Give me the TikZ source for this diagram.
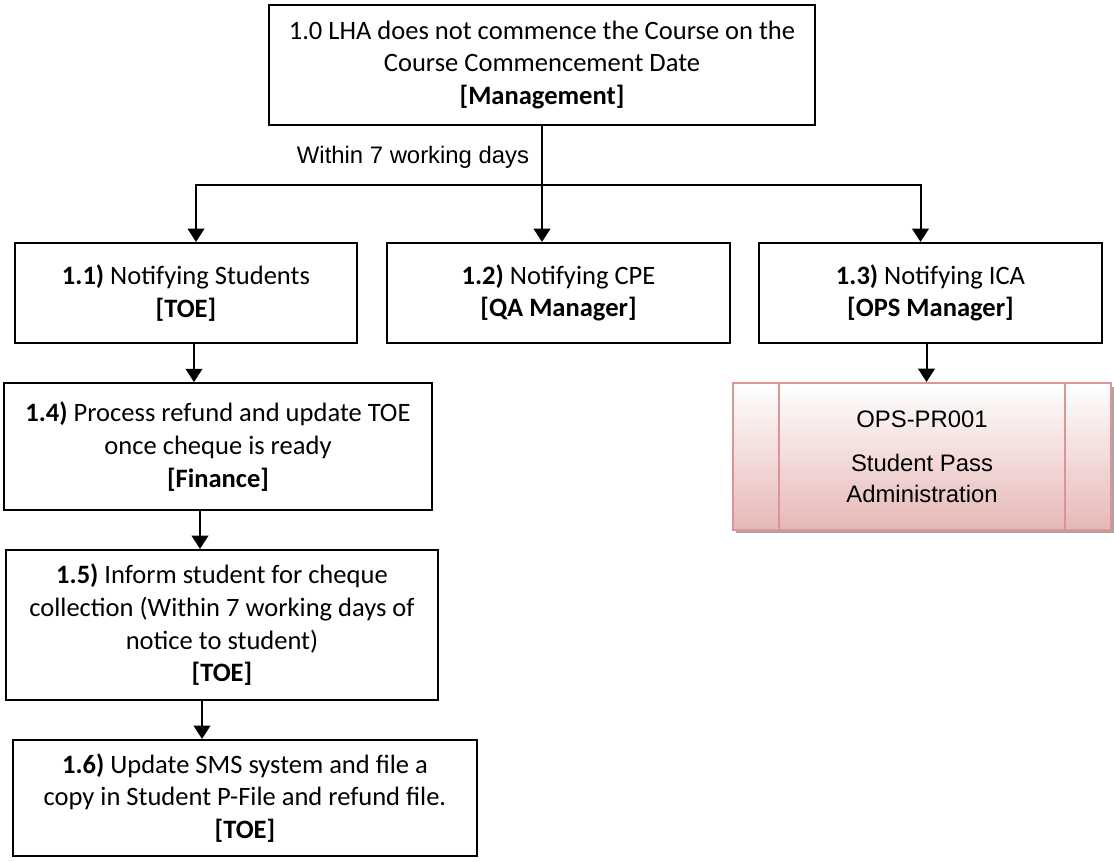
\documentclass[tikz,border=0pt]{standalone}
\usepackage{fontspec}
\setmainfont{Carlito}
\newfontfamily\arialfont{Liberation Sans}
\usepackage{tikz}
\usetikzlibrary{arrows.meta, positioning, shadows}
\usepackage{xcolor}
\definecolor{procpink}{RGB}{230, 184, 183}
\definecolor{procedge}{RGB}{217, 150, 148}

\begin{document}
\begin{tikzpicture}[x=0.75pt, y=-0.75pt,
    stepbox/.style={rectangle, draw=black, line width=1.6pt, fill=white, align=center, inner sep=3pt, font=\fontsize{19.9}{24.5}\selectfont},
    subproc/.style={rectangle, draw=procedge, line width=1.8pt, top color=white, bottom color=procpink, align=center,
        minimum width=283.5pt, minimum height=110pt, font=\arialfont\fontsize{17.9}{23.25}\selectfont,
        drop shadow={shadow xshift=2.5pt, shadow yshift=-2.5pt, fill=gray!70, opacity=1},
        path picture={
            \draw[procedge, line width=1.8pt] ([xshift=34.5pt]path picture bounding box.north west) -- ([xshift=34.5pt]path picture bounding box.south west);
            \draw[procedge, line width=1.8pt] ([xshift=-34.5pt]path picture bounding box.north east) -- ([xshift=-34.5pt]path picture bounding box.south east);
        }},
    arr/.style={-{Triangle[length=10pt, width=12.5pt]}, line width=1.5pt, black},
]
\useasboundingbox (0,0) rectangle (1114,861);

\node[stepbox, minimum width=409.5pt, minimum height=90pt] (n10) at (542,65)
    {1.0 LHA does not commence the Course on the\\Course Commencement Date\\\textbf{[Management]}};

\node[font=\arialfont\fontsize{17.9}{23.25}\selectfont] (lbl) at (413,157) {Within 7 working days};

\node[stepbox, minimum width=257pt, minimum height=75pt] (n11) at (186,293)
    {\textbf{1.1)} Notifying Students\\\textbf{[TOE]}};
\node[stepbox, minimum width=257pt, minimum height=75pt] (n12) at (558.5,293)
    {\textbf{1.2)} Notifying CPE\\\textbf{[QA Manager]}};
\node[stepbox, minimum width=257pt, minimum height=75pt] (n13) at (930.5,293)
    {\textbf{1.3)} Notifying ICA\\\textbf{[OPS Manager]}};

\node[stepbox, minimum width=321pt, minimum height=95pt] (n14) at (218,446.5)
    {\textbf{1.4)} Process refund and update TOE\\once cheque is ready\\\textbf{[Finance]}};
\node[stepbox, minimum width=324pt, minimum height=112.5pt] (n15) at (222,625)
    {\textbf{1.5)} Inform student for cheque\\collection (Within 7 working days of\\notice to student)\\\textbf{[TOE]}};
\node[stepbox, minimum width=348pt, minimum height=87pt] (n16) at (245,798)
    {\textbf{1.6)} Update SMS system and file a\\copy in Student P-File and refund file.\\\textbf{[TOE]}};

\node[subproc] (ops) at (922,456.5)
    {OPS-PR001\\[10pt]Student Pass\\Administration};

% branching from the top box
\coordinate (hline) at (0,185);
\coordinate (split) at (n10.south |- hline);
\draw[arr] (n10.south) -- (n10.south |- n12.north);
\draw[arr] (split) -| ([xshift=7.5pt]n11.north);
\draw[arr] (split) -| ([xshift=-7.5pt]n13.north);

\draw[arr] ([xshift=6pt]n11.south) -- ([xshift=6pt]n11.south |- n14.north);
\draw[arr] ([xshift=-13.5pt]n14.south) -- ([xshift=-13.5pt]n14.south |- n15.north);
\draw[arr] ([xshift=-15pt]n15.south) -- ([xshift=-15pt]n15.south |- n16.north);
\draw[arr] ([xshift=-3pt]n13.south) -- ([xshift=-3pt]n13.south |- ops.north);

\end{tikzpicture}
\end{document}
